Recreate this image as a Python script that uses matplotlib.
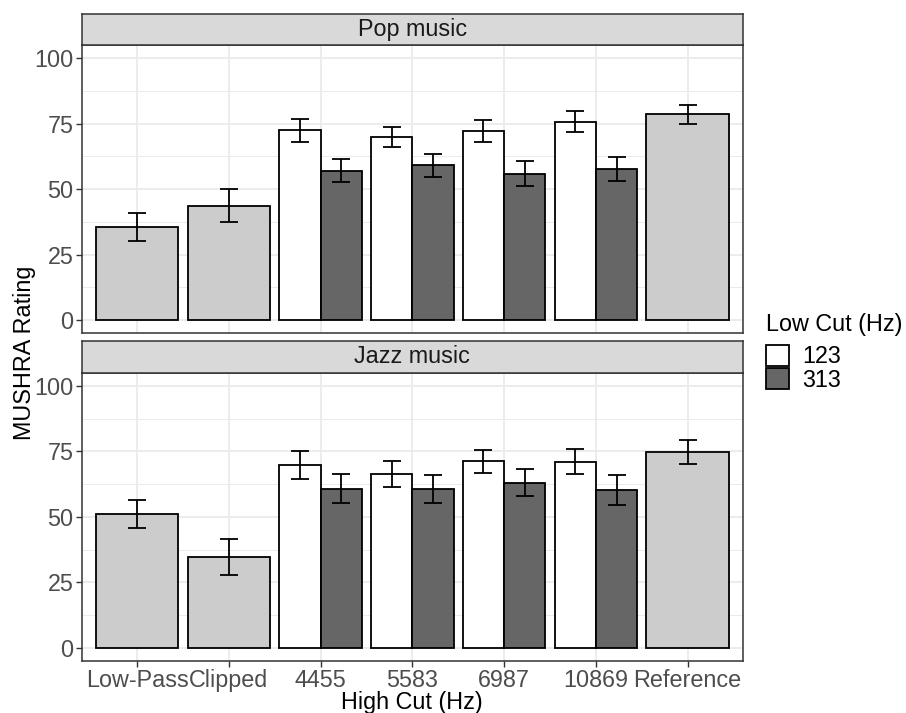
import matplotlib.pyplot as plt
import numpy as np
from matplotlib.patches import Patch

plt.rcParams['font.family'] = ['Liberation Sans', 'DejaVu Sans']

categories = ['Low-Pass', 'Clipped', '4455', '5583', '6987', '10869', 'Reference']
panels = ['Pop music', 'Jazz music']

# single bars (Low-Pass, Clipped, Reference)
single_idx = [0, 1, 6]
single_mean = {'Pop music': [35.6, 43.7, 78.5], 'Jazz music': [51.0, 34.8, 74.7]}
single_err = {'Pop music': [5.4, 6.2, 3.7], 'Jazz music': [5.4, 6.8, 4.6]}

# dodged bars by low cut
pair_idx = [2, 3, 4, 5]
low_cuts = ['123', '313']
pair_mean = {
    'Pop music': {'123': [72.4, 69.9, 72.2, 75.8], '313': [57.0, 59.1, 55.9, 57.6]},
    'Jazz music': {'123': [69.8, 66.5, 71.2, 71.0], '313': [60.7, 60.6, 63.1, 60.3]},
}
pair_err = {
    'Pop music': {'123': [4.3, 4.0, 4.2, 3.9], '313': [4.4, 4.4, 4.7, 4.5]},
    'Jazz music': {'123': [5.5, 5.0, 4.4, 4.8], '313': [5.5, 5.2, 5.0, 5.6]},
}

single_color = '#CCCCCC'
cut_colors = {'123': '#FFFFFF', '313': '#666666'}
FS = 16.8

fig = plt.figure(figsize=(9.06, 7.13), dpi=100)
W, H = 906, 713
left, right = 82, 742.7
panel_boxes = [(45, 333.3), (372.7, 661)]
strip_h = 31.5

for p, (top, bottom) in zip(panels, panel_boxes):
    ax = fig.add_axes([left / W, 1 - bottom / H, (right - left) / W, (bottom - top) / H])
    ax.set_axisbelow(True)
    ax.set_xlim(0.4, 7.6)
    ax.set_ylim(-5, 105)
    ax.set_yticks([0, 25, 50, 75, 100])
    ax.set_yticks([12.5, 37.5, 62.5, 87.5], minor=True)
    ax.set_xticks(np.arange(1, 8))
    ax.grid(True, which='major', color='#EBEBEB', linewidth=1.3)
    ax.grid(True, which='minor', axis='y', color='#EBEBEB', linewidth=0.7)
    ax.tick_params(axis='y', which='minor', length=0)
    ax.tick_params(which='major', length=4, width=1, color='#333333',
                   labelsize=FS, labelcolor='#4D4D4D', pad=2)
    for s in ax.spines.values():
        s.set_color('#333333')
        s.set_linewidth(1.1)

    xs = np.array(single_idx) + 1
    ax.bar(xs, single_mean[p], width=0.9, color=single_color, edgecolor='black', linewidth=1.3)
    ax.errorbar(xs, single_mean[p], yerr=single_err[p], fmt='none', ecolor='black',
                elinewidth=1.3, capsize=6.5, capthick=1.3)
    for k, cut in enumerate(low_cuts):
        xp = np.array(pair_idx) + 1 + (k - 0.5) * 0.45
        ax.bar(xp, pair_mean[p][cut], width=0.45, color=cut_colors[cut],
               edgecolor='black', linewidth=1.3)
        ax.errorbar(xp, pair_mean[p][cut], yerr=pair_err[p][cut], fmt='none', ecolor='black',
                    elinewidth=1.3, capsize=6.5, capthick=1.3)

    if p == panels[-1]:
        ax.set_xticklabels(categories)
        ax.tick_params(axis='x', pad=2)
    else:
        ax.tick_params(axis='x', length=0, labelbottom=False)

    sax = fig.add_axes([left / W, 1 - top / H, (right - left) / W, strip_h / H])
    sax.set_facecolor('#D9D9D9')
    sax.set_xticks([])
    sax.set_yticks([])
    for s in sax.spines.values():
        s.set_color('#333333')
        s.set_linewidth(1.1)
    sax.text(0.5, 0.5, p, ha='center', va='center', fontsize=FS, color='#1A1A1A',
             transform=sax.transAxes)

fig.text((left + right) / 2 / W, 1 - 709 / H, 'High Cut (Hz)', ha='center', va='baseline', fontsize=FS)
fig.text(25 / W, 1 - 353 / H, 'MUSHRA Rating', ha='center', va='center', rotation=90, fontsize=FS)

fig.text(766 / W, 1 - 325 / H, 'Low Cut (Hz)', ha='left', va='center', fontsize=FS)
handles = [Patch(facecolor=cut_colors[c], edgecolor='black', linewidth=1.3, label=c) for c in low_cuts]
leg = fig.legend(handles=handles, loc='upper left',
                 bbox_to_anchor=(766 / W, 1 - 345 / H), frameon=False, fontsize=FS,
                 handlelength=1.0, handleheight=1.0, labelspacing=0.0,
                 handletextpad=0.55, borderaxespad=0, borderpad=0)

fig.savefig('out.png', dpi=100)
